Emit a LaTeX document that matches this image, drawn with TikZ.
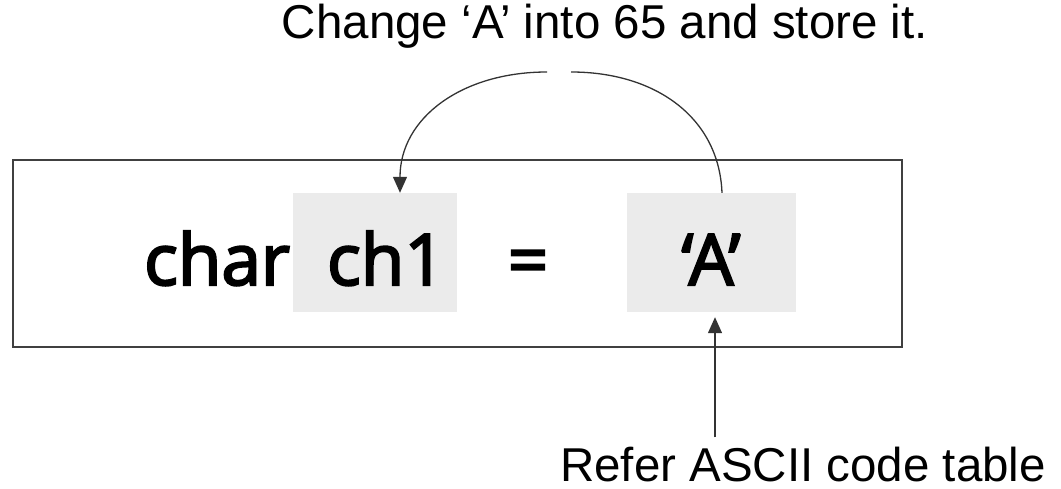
\documentclass[tikz,border=0pt]{standalone}
\usepackage{fontspec}
\setmainfont{Liberation Sans}
\newfontfamily\codefont{Open Sans}[FakeBold=3]
\usetikzlibrary{arrows.meta}
\begin{document}
\begin{tikzpicture}[x=1pt,y=-1pt,
  lbl/.style={font=\fontsize{47.5}{50}\selectfont, inner sep=0pt, anchor=base},
  code/.style={font=\codefont\fontsize{71}{75}\selectfont, inner sep=0pt, anchor=base},
  hl/.style={fill=black!8, draw=none, minimum width=#1, minimum height=119pt, inner sep=0pt},
  conn/.style={draw=black!80, line width=1.3pt},
  tip/.style={-{Triangle[length=16pt,width=14pt]}}
]
\useasboundingbox (0,0) rectangle (1061,489);
% outer frame
\node[draw=black!75, line width=1.8pt, minimum width=889pt, minimum height=187pt, inner sep=0pt] (frame) at (457.5,253.5) {};
% highlighted boxes
\node[hl=164pt] (ch1box) at (375,252.5) {};
\node[hl=169pt] (Abox) at (711.5,252.5) {};
% code text
\node[code] (char) at (217,285) {char};
\node[code] (ch1) at (386,285) {ch1};
\node[code] (eq) at (528,285) {=};
\node[code] (Atxt) at (711,285) {‘A’};
% labels
\node[lbl] (top) at (605,39) {Change ‘A’ into 65 and store it.};
\node[lbl] (bot) at (803,481) {Refer ASCII code table};
% curved connector with gap at apex
\coordinate (gapL) at (547,72);
\coordinate (gapR) at (571,72);
\draw[conn] ([xshift=10.5pt]Abox.north) .. controls +(-3,-75) and +(85,0) .. (gapR);
\draw[conn,tip] (gapL) .. controls +(-85,0) and +(0,-75) .. ([xshift=25pt]ch1box.north);
% straight connector
\coordinate (foot) at ([xshift=-88pt,yshift=9pt]bot.north);
\coordinate (headpt) at (foot |- Abox.south);
\draw[conn,tip] (foot) -- ([yshift=-5pt]headpt);
\end{tikzpicture}
\end{document}
